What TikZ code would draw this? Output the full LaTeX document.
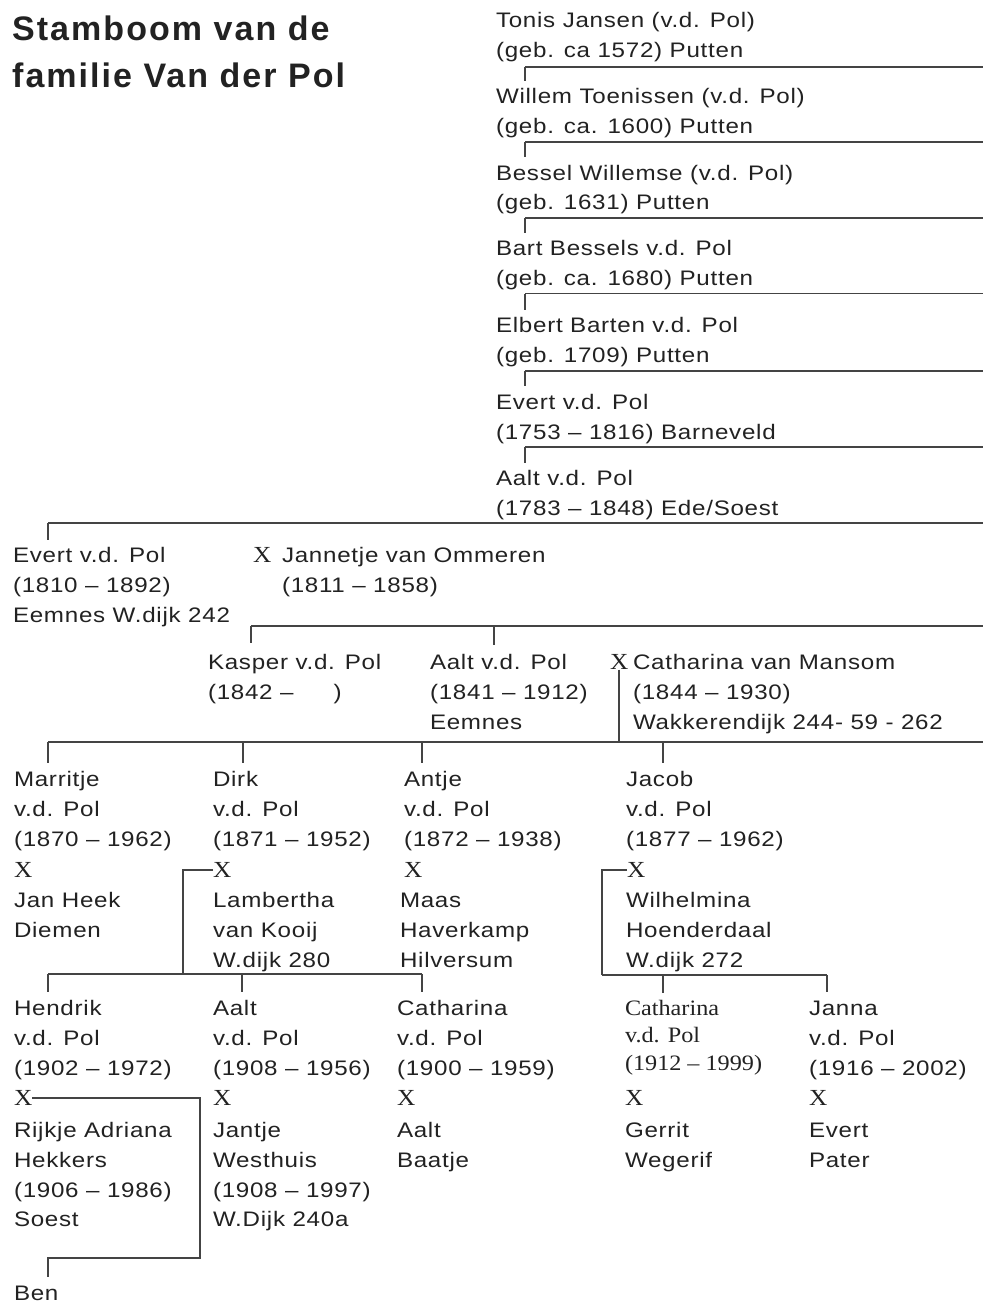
\documentclass[tikz,border=0pt]{standalone}
\usepackage{fontspec}
\usetikzlibrary{calc}
\setmainfont{Liberation Sans}
\newfontfamily\sansf[FakeStretch=1.15,LetterSpace=3.5]{Liberation Sans}
\newfontfamily\titlef[LetterSpace=6]{Liberation Sans}
\newfontfamily\serf[FakeStretch=1.1]{Liberation Serif}
\definecolor{ink}{HTML}{222222}
\definecolor{rulec}{HTML}{444444}
\newcommand{\Sa}{\rule{0pt}{20.86pt}}
\newcommand{\Sb}{\rule{0pt}{19.25pt}}
\newcommand{\St}{\rule{0pt}{32.9pt}}
\tikzset{
  person/.style={anchor=north west, inner sep=0pt, outer sep=0pt, align=left, text=ink,
    font=\sansf\fontsize{21}{29.8}\selectfont, yshift=13.36pt},
  sperson/.style={anchor=north west, inner sep=0pt, outer sep=0pt, align=left, text=ink,
    font=\serf\fontsize{22}{27.5}\selectfont, yshift=11.95pt},
  xmark/.style={anchor=west, inner sep=0pt, outer sep=0pt, text=ink,
    font=\serf\fontsize{23}{23}\selectfont},
  conn/.style={draw=rulec, line width=1.8pt},
  tick/.style={draw=rulec, line width=1.5pt},
}
\begin{document}
\begin{tikzpicture}[x=1pt,y=-1pt]
\useasboundingbox[fill=white] (0,0) rectangle (983,1303);

% title
\node[anchor=north west, inner sep=0pt, align=left, text=ink,
  font=\titlef\bfseries\fontsize{34}{47}\selectfont]
  (title) at (12,7.5) {\St Stamboom van de\\familie Van der Pol};

% ancestor chain
\node[person] (tonis) at (496,20.5) {\Sa Tonis Jansen (v.d. Pol)\\(geb. ca 1572) Putten};
\node[person] (willem) at (496,96) {\Sa Willem Toenissen (v.d. Pol)\\(geb. ca. 1600) Putten};
\node[person] (bessel) at (496,172.5) {\Sa Bessel Willemse (v.d. Pol)\\(geb. 1631) Putten};
\node[person] (bart) at (496,248) {\Sa Bart Bessels v.d. Pol\\(geb. ca. 1680) Putten};
\node[person] (elbert) at (496,325) {\Sa Elbert Barten v.d. Pol\\(geb. 1709) Putten};
\node[person] (evert1) at (496,401.7) {\Sa Evert v.d. Pol\\(1753 – 1816) Barneveld};
\node[person] (aalt1) at (496,478) {\Sa Aalt v.d. Pol\\(1783 – 1848) Ede/Soest};

\coordinate (b1) at (525,67);
\coordinate (b2) at (525,142);
\coordinate (b3) at (525,218);
\coordinate (b4) at (525,293.5);
\coordinate (b5) at (525,371);
\coordinate (b6) at (525,446.7);
\coordinate (b7) at (48,523);
\foreach \b/\c in {b1/willem,b2/bessel,b3/bart,b4/elbert,b5/evert1,b6/aalt1}{
  \draw[conn] (\b) -- (\b -| 983,0);
  \draw[tick] (\b) -- ($(\b |- \c.north)+(0,-2)$);
}

% generation Evert x Jannetje
\node[person] (evert2) at (13,555) {\Sa Evert v.d. Pol\\(1810 – 1892)\\Eemnes W.dijk 242};
\draw[conn] (b7) -- (b7 -| 983,0);
\draw[tick] (b7) -- ($(b7 |- evert2.north)+(0,-2)$);
\node[xmark] (xjan) at (253,555) {X};
\node[person] (jannetje) at (282,555) {\Sa Jannetje van Ommeren\\(1811 – 1858)};

\coordinate (b8) at (251,626);
\coordinate (b8b) at (494,626);
\node[person] (kasper) at (208,662) {\Sa Kasper v.d. Pol\\(1842 –\hspace{40pt})};
\node[person] (aalt2) at (430,662) {\Sa Aalt v.d. Pol\\(1841 – 1912)\\Eemnes};
\node[xmark] (xcm) at (610,662) {X};
\node[person] (cathm) at (633,662) {\Sa Catharina van Mansom\\(1844 – 1930)\\Wakkerendijk 244- 59 - 262};
\draw[conn] (b8) -- (b8 -| 983,0);
\draw[tick] (b8) -- ($(b8 |- kasper.north)+(0,-6)$);
\draw[tick] (b8b) -- ($(b8b |- aalt2.north)+(0,-4)$);

% children of Aalt x Catharina
\coordinate (b9) at (48,742);
\coordinate (m9) at (xcm.south |- b9);
\draw[tick] (xcm.south) -- (m9);
\draw[conn] (b9) -- (b9 -| 983,0);

\node[person] (marritje) at (14,779) {\Sa Marritje\\v.d. Pol\\(1870 – 1962)};
\node[person] (dirk) at (213,779) {\Sa Dirk\\v.d. Pol\\(1871 – 1952)};
\node[person] (antje) at (404,779) {\Sa Antje\\v.d. Pol\\(1872 – 1938)};
\node[person] (jacob) at (626,779) {\Sa Jacob\\v.d. Pol\\(1877 – 1962)};
\foreach \x/\c in {48/marritje,243/dirk,422/antje,663/jacob}{
  \draw[tick] (\x,742) -- ($(\x,0 |- \c.north)+(0,-3)$);
}

\node[xmark] (xmar) at (14,870) {X};
\node[xmark] (xdirk) at (213,870) {X};
\node[xmark] (xantje) at (404,870) {X};
\node[xmark] (xjacob) at (627,870) {X};

\node[person] (janheek) at (14,900) {\Sa Jan Heek\\Diemen};
\node[person] (lambertha) at (213,900) {\Sa Lambertha\\van Kooij\\W.dijk 280};
\node[person] (maas) at (400,900) {\Sa Maas\\Haverkamp\\Hilversum};
\node[person] (wilhelmina) at (626,900) {\Sa Wilhelmina\\Hoenderdaal\\W.dijk 272};

% children of Dirk
\coordinate (d1) at (183,974);
\draw[tick] (xdirk.west) -| (d1);
\draw[conn] (48,974) -- (422,974);
% children of Jacob
\coordinate (j1) at (602,975);
\draw[tick] (xjacob.west) -| (j1);
\draw[conn] (j1) -- (827,975);

\node[person] (hendrik) at (14,1008) {\Sa Hendrik\\v.d. Pol\\(1902 – 1972)};
\node[person] (aalt3) at (213,1008) {\Sa Aalt\\v.d. Pol\\(1908 – 1956)};
\node[person] (cath3) at (397,1008) {\Sa Catharina\\v.d. Pol\\(1900 – 1959)};
\node[sperson] (cath4) at (625,1008) {\Sb Catharina\\v.d. Pol\\(1912 – 1999)};
\node[person] (janna) at (809,1008) {\Sa Janna\\v.d. Pol\\(1916 – 2002)};
\foreach \x/\y/\c in {48/974/hendrik,242/974/aalt3,422/974/cath3,663/975/cath4,827/975/janna}{
  \draw[tick] (\x,\y) -- ($(\x,0 |- \c.north)+(0,-3)$);
}

\node[xmark] (xhend) at (14,1098) {X};
\node[xmark] (xaalt3) at (213,1098) {X};
\node[xmark] (xcath3) at (397,1098) {X};
\node[xmark] (xcath4) at (625,1098) {X};
\node[xmark] (xjanna) at (809,1098) {X};

\node[person] (rijkje) at (14,1130) {\Sa Rijkje Adriana\\Hekkers\\(1906 – 1986)\\Soest};
\node[person] (jantje) at (213,1130) {\Sa Jantje\\Westhuis\\(1908 – 1997)\\W.Dijk 240a};
\node[person] (aaltb) at (397,1130) {\Sa Aalt\\Baatje};
\node[person] (gerrit) at (625,1130) {\Sa Gerrit\\Wegerif};
\node[person] (evertp) at (809,1130) {\Sa Evert\\Pater};

\node[person] (ben) at (14,1293) {\Sa Ben};
\coordinate (h1) at (200,1258);
\coordinate (h2) at (48,1258);
\draw[tick] (xhend.east) -| (h1) -- (h2) -- ($(h2 |- ben.north)+(0,-3)$);
\end{tikzpicture}
\end{document}
